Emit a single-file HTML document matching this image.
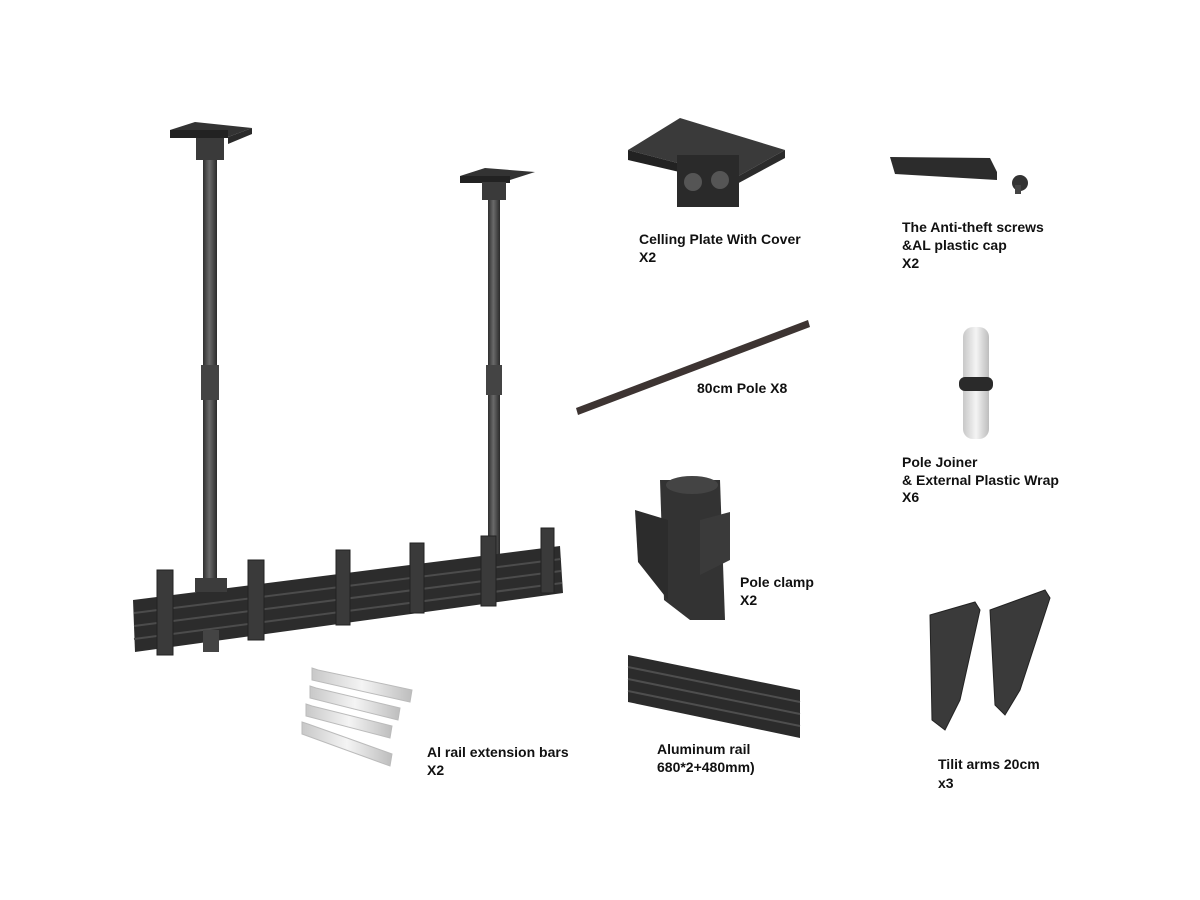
<!DOCTYPE html>
<html><head><meta charset="utf-8"><style>
html,body{margin:0;padding:0;background:#fff;width:1200px;height:900px;overflow:hidden}
svg{position:absolute;left:0;top:0}
text{font-family:"Liberation Sans",sans-serif;font-weight:bold;font-size:14px;fill:#111}
</style></head><body>
<svg width="1200" height="900" viewBox="0 0 1200 900">
<defs>
<linearGradient id="pole" x1="0" x2="1"><stop offset="0" stop-color="#2e2e2e"/><stop offset=".45" stop-color="#6a6a6a"/><stop offset="1" stop-color="#2a2a2a"/></linearGradient>
<linearGradient id="wh" x1="0" x2="1"><stop offset="0" stop-color="#c8c8c8"/><stop offset=".5" stop-color="#f4f4f4"/><stop offset="1" stop-color="#bdbdbd"/></linearGradient>
</defs>
<!-- main assembly -->
<rect x="203" y="140" width="14" height="510" fill="url(#pole)"/>
<rect x="488" y="185" width="12" height="415" fill="url(#pole)"/>
<polygon points="170,130 195,122 252,128 228,137" fill="#333"/>
<rect x="170" y="130" width="58" height="8" fill="#222"/>
<polygon points="228,137 252,128 252,134 228,144" fill="#2a2a2a"/>
<rect x="196" y="138" width="28" height="22" fill="#3a3a3a"/>
<polygon points="460,176 485,168 535,172 510,180" fill="#333"/>
<rect x="460" y="176" width="50" height="7" fill="#222"/>
<rect x="482" y="182" width="24" height="18" fill="#3a3a3a"/>
<rect x="201" y="365" width="18" height="35" fill="#444"/>
<rect x="486" y="365" width="16" height="30" fill="#444"/>
<!-- rail -->
<polygon points="133,600 560,546 563,593 135,652" fill="#2c2c2c"/>
<g stroke="#4c4c4c" stroke-width="2"><line x1="134" y1="613" x2="561" y2="559"/><line x1="134" y1="626" x2="561" y2="571"/><line x1="134" y1="639" x2="562" y2="583"/></g>
<rect x="195" y="578" width="32" height="14" fill="#3c3c3c"/>
<rect x="203" y="630" width="16" height="22" fill="#444"/>
<g fill="#3a3a3a" stroke="#222" stroke-width="1">
<rect x="157" y="570" width="16" height="85"/><rect x="248" y="560" width="16" height="80"/>
<rect x="336" y="550" width="14" height="75"/><rect x="410" y="543" width="14" height="70"/>
<rect x="481" y="536" width="15" height="70"/><rect x="541" y="528" width="13" height="65"/>
</g>
<!-- ceiling plate -->
<polygon points="628,150 680,118 785,150 735,178" fill="#3a3a3a"/>
<polygon points="628,150 735,178 735,185 628,160" fill="#222"/>
<polygon points="735,178 785,150 785,158 735,185" fill="#2b2b2b"/>
<rect x="677" y="155" width="62" height="52" fill="#2a2a2a"/>
<circle cx="693" cy="182" r="9" fill="#555"/><circle cx="720" cy="180" r="9" fill="#555"/>
<!-- anti theft -->
<polygon points="890,157 990,158 997,172 997,180 895,174" fill="#2c2c2c"/>
<circle cx="1020" cy="183" r="8" fill="#333"/><rect x="1015" y="185" width="6" height="9" fill="#444"/>
<!-- 80cm pole -->
<polygon points="576,408 808,320 810,327 578,415" fill="#3d3432"/>
<!-- pole joiner -->
<rect x="963" y="327" width="26" height="112" rx="10" fill="url(#wh)"/>
<rect x="959" y="377" width="34" height="14" rx="6" fill="#2a2a2a"/>
<!-- pole clamp -->
<polygon points="660,480 720,480 725,620 690,620 664,600" fill="#333"/>
<polygon points="635,510 668,520 668,600 638,562" fill="#2c2c2c"/>
<polygon points="700,520 730,512 730,560 700,575" fill="#3a3a3a"/>
<ellipse cx="692" cy="485" rx="26" ry="9" fill="#444"/>
<!-- aluminum rail -->
<polygon points="628,655 800,690 800,738 628,702" fill="#2b2b2b"/>
<g stroke="#4e4e4e" stroke-width="2"><line x1="628" y1="667" x2="800" y2="702"/><line x1="628" y1="679" x2="800" y2="714"/><line x1="628" y1="691" x2="800" y2="726"/></g>
<!-- extension bars -->
<g fill="url(#wh)" stroke="#bbb">
<polygon points="312,668 318,670 412,690 410,702 312,680"/>
<polygon points="310,686 316,688 400,708 398,720 310,698"/>
<polygon points="306,704 312,706 392,726 390,738 306,716"/>
<polygon points="302,722 308,724 392,754 390,766 302,734"/>
</g>
<!-- tilt arms -->
<g fill="#3a3a3a" stroke="#222">
<polygon points="930,615 975,602 980,610 960,700 945,730 932,720"/>
<polygon points="990,610 1045,590 1050,598 1020,690 1005,715 995,705"/>
</g>
<!-- labels -->
<text x="639" y="244">Celling Plate With Cover</text><text x="639" y="262">X2</text>
<text x="902" y="232">The Anti-theft screws</text><text x="902" y="250">&amp;AL plastic cap</text><text x="902" y="268">X2</text>
<text x="697" y="393">80cm Pole X8</text>
<text x="902" y="467">Pole Joiner</text><text x="902" y="485">&amp; External Plastic Wrap</text><text x="902" y="502">X6</text>
<text x="740" y="587">Pole clamp</text><text x="740" y="605">X2</text>
<text x="427" y="757">Al rail extension bars</text><text x="427" y="775">X2</text>
<text x="657" y="754">Aluminum rail</text><text x="657" y="772">680*2+480mm)</text>
<text x="938" y="769">Tilit arms 20cm</text><text x="938" y="788">x3</text>
</svg>
</body></html>
